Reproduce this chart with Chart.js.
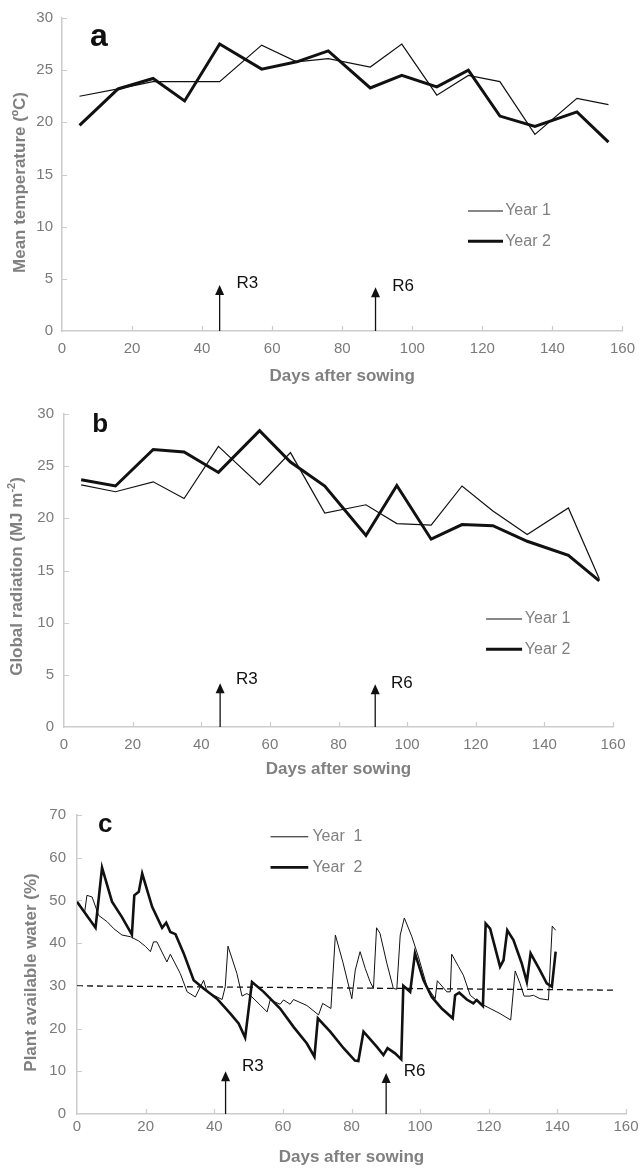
<!DOCTYPE html>
<html><head><meta charset="utf-8">
<script src="https://cdn.jsdelivr.net/npm/chart.js@4.4.0/dist/chart.umd.min.js"></script>
<style>
html,body{margin:0;padding:0;background:#fff;}
.p{position:absolute;left:0;width:644px;}
</style></head><body>
<div class="p" style="top:0;height:392px"><canvas id="ca"></canvas></div>
<div class="p" style="top:392px;height:392px"><canvas id="cb"></canvas></div>
<div class="p" style="top:784px;height:384px"><canvas id="cc"></canvas></div>
<script>
// ---------- data ----------
const xTickValues = [0,20,40,60,80,100,120,140,160];
const tempTicks = [0,5,10,15,20,25,30];
const radTicks = [0,5,10,15,20,25,30];
const waterTicks = [0,10,20,30,40,50,60,70];
const seriesNames = ['Year 1','Year 2'];
const stageLabels = ['R3','R6'];

// panel a: mean temperature
const tempDays = [5,16,26,35,45,57,67,76,88,97,107,116,125,135,147,156];
const tempYear1 = [22.5,23.2,23.9,23.9,23.9,27.4,25.8,26.1,25.3,27.5,22.6,24.5,23.9,18.85,22.3,21.7];
const tempYear2 = [19.7,23.2,24.2,22.05,27.5,25.1,25.8,26.85,23.3,24.5,23.4,25.0,20.6,19.6,21.0,18.1];
const stageDaysA = [45,89.5];

// panel b: global radiation
const radDays = [5,15,26,35,45,57,66,76,88,97,107,116,125,135,147,156];
const radYear1 = [23.2,22.55,23.5,21.9,26.9,23.2,26.3,20.5,21.3,19.5,19.35,23.1,20.7,18.45,21.0,14.2];
const radYear2 = [23.7,23.1,26.6,26.35,24.4,28.4,25.4,23.1,18.35,23.15,18.0,19.4,19.3,17.8,16.45,14.0];
const stageDaysB = [45.5,90.7];

// panel c: plant available water
const waterDaysY1 = [0,2.2,2.9,4.4,6.3,8.8,10.7,13.1,15.6,18,20,21.4,22.3,23.3,26.2,27.2,30.1,32.1,34.5,36.9,37.9,42.3,43.2,44.0,46.6,48.1,49.5,51.0,53.4,55.4,56.3,59.2,60.2,62.1,63.1,67.0,70.4,71.6,74.0,75.3,77.5,80.1,81.1,82.5,84.0,85.4,86.4,87.3,88.3,90.3,92.2,93.2,94.2,95.4,97.6,99.5,102.0,104.4,105.0,107.8,108.8,109.2,111.2,112.6,114.6,117.5,120.4,123.3,126.4,127.7,129.1,130.3,132.0,133.0,134.9,137.4,138.5,139.5];
const waterY1 = [49.7,47.1,51.2,50.8,46.5,45.0,43.4,41.9,41.5,40.5,39.2,38.0,40.3,40.3,35.6,37.4,32.9,28.6,27.4,31.3,28.6,26.8,29.8,39.3,32.9,27.6,28.2,27.4,25.5,23.9,26.7,25.7,26.7,25.7,26.8,25.4,23.2,25.9,24.7,41.9,35.5,27.0,33.7,38.0,34.1,31.0,29.4,43.6,42.3,35.3,29.4,29.2,41.9,45.9,41.5,36.8,29.8,27.0,31.2,28.6,28.6,37.4,34.5,32.5,27.8,25.9,24.7,23.5,22.0,33.5,30.6,27.6,27.6,27.8,27.0,26.7,44.0,43.0];
const waterDaysY2 = [0,5.4,7.3,10.2,13.1,16.0,16.7,18.0,19.0,21.9,24.8,26.0,27.2,28.7,31.1,34.0,36.9,40.8,44.7,47.1,49.0,51.0,54.4,59.2,63.1,67.0,69.2,70.2,73.8,77.7,81.0,82.0,83.5,87.4,89.3,90.5,92.7,94.5,95.1,97.1,98.5,101.0,103.4,106.3,109.5,110.2,111.4,113.6,115.5,116.5,118.3,119.1,120.4,123.3,124.3,125.4,127.2,129.6,131.1,132.2,134.9,136.9,138.4,139.5];
const waterY2 = [49.7,43.6,57.7,49.7,46.1,42.0,51.2,52.0,56.3,48.5,43.6,44.8,42.6,42.1,37.6,31.3,29.4,27.0,23.5,21.2,17.9,30.9,28.6,24.7,20.4,16.5,13.4,22.4,19.3,15.4,12.5,12.4,19.3,15.7,13.8,15.4,14.2,12.8,30.0,28.6,37.6,31.3,27.4,24.7,22.4,27.8,28.4,26.8,25.9,26.7,25.3,44.6,43.4,34.5,36.0,43.0,40.7,35.3,30.9,37.6,33.7,30.6,29.8,38.0];
const thresholdDays = [0,157];
const thresholdValues = [30,29];
const stageDaysC = [43.3,90.1];

// ---------- styles ----------
const AXIS = '#cccccc', TICK = '#7a7a7a', TITLE = '#808080', INK = '#111111';
const FAM = "'Liberation Sans', Arial, Helvetica, sans-serif";
Chart.defaults.font.family = FAM;

const pts = (xs, ys) => xs.map((d,i)=>({x:d, y:ys[i]}));

const deco = {
  id: 'deco',
  afterDatasetsDraw(chart, args, o) {
    const {ctx, chartArea: ca, scales: {x, y}} = chart;
    ctx.save();
    // inward tick marks
    ctx.strokeStyle = AXIS; ctx.lineWidth = 1.2;
    ctx.beginPath();
    y.ticks.forEach(t => { if (t.value === 0) return; const py = Math.round(y.getPixelForValue(t.value)) + 0.5; ctx.moveTo(ca.left, py); ctx.lineTo(ca.left + 5, py); });
    x.ticks.forEach(t => { if (t.value === 0) return; const px = Math.round(x.getPixelForValue(t.value)) + 0.5; ctx.moveTo(px, ca.bottom); ctx.lineTo(px, ca.bottom - 5); });
    ctx.stroke();
    // y-axis title (with optional superscript)
    const yt = o.yTitle;
    ctx.save();
    ctx.translate(yt.x, (ca.top + ca.bottom) / 2 + yt.dy);
    ctx.rotate(-Math.PI / 2);
    ctx.fillStyle = TITLE; ctx.textBaseline = 'middle'; ctx.textAlign = 'left';
    const fMain = 'bold 17px ' + FAM, fSup = 'bold 11px ' + FAM;
    let total = 0;
    yt.parts.forEach(p => { ctx.font = p.sup ? fSup : fMain; total += ctx.measureText(p.t).width; });
    let cx = -total / 2;
    yt.parts.forEach(p => { ctx.font = p.sup ? fSup : fMain; ctx.fillText(p.t, cx, p.sup ? -5 : 0); cx += ctx.measureText(p.t).width; });
    ctx.restore();
    // arrows and stage labels
    ctx.strokeStyle = INK; ctx.fillStyle = INK; ctx.lineWidth = 1.3;
    o.arrows.forEach(a => {
      const px = x.getPixelForValue(a.day), tip = y.getPixelForValue(a.tip);
      ctx.beginPath(); ctx.moveTo(px, ca.bottom); ctx.lineTo(px, tip + 6); ctx.stroke();
      ctx.beginPath(); ctx.moveTo(px, tip); ctx.lineTo(px - 4.5, tip + 10); ctx.lineTo(px + 4.5, tip + 10); ctx.closePath(); ctx.fill();
      ctx.font = '17px ' + FAM; ctx.textAlign = 'left'; ctx.textBaseline = 'middle';
      ctx.fillText(a.label, x.getPixelForValue(a.lx), y.getPixelForValue(a.ly));
    });
    // legend
    const lg = o.legend;
    lg.items.forEach(it => {
      const py = y.getPixelForValue(it.y);
      ctx.strokeStyle = INK; ctx.lineWidth = it.w;
      ctx.beginPath(); ctx.moveTo(x.getPixelForValue(lg.x1), py); ctx.lineTo(x.getPixelForValue(lg.x2), py); ctx.stroke();
      ctx.fillStyle = TITLE; ctx.font = '16px ' + FAM; ctx.textAlign = 'left'; ctx.textBaseline = 'middle';
      ctx.fillText(it.label, x.getPixelForValue(lg.tx), py);
    });
    // panel letter
    const L = o.letter;
    ctx.fillStyle = INK; ctx.font = 'bold ' + L.size + 'px ' + FAM; ctx.textAlign = 'left'; ctx.textBaseline = 'alphabetic';
    ctx.fillText(L.text, x.getPixelForValue(L.x), y.getPixelForValue(L.y));
    ctx.restore();
  }
};

function makeChart(id, c) {
  return new Chart(document.getElementById(id), {
    type: 'line',
    data: { datasets: c.datasets },
    options: {
      responsive: true, maintainAspectRatio: false, animation: false,
      layout: { padding: c.pad },
      elements: { point: { radius: 0 }, line: { tension: 0, borderJoinStyle: 'miter' } },
      plugins: { legend: { display: false }, tooltip: { enabled: false }, deco: c.deco },
      scales: {
        x: {
          type: 'linear', min: 0, max: 160,
          afterBuildTicks: s => { s.ticks = xTickValues.map(v => ({value: v})); },
          afterFit: s => { s.height = c.xh; },
          grid: { display: true, drawOnChartArea: false, drawTicks: false },
          border: { display: true, color: AXIS, width: 1.5 },
          ticks: { color: TICK, font: { size: 15 }, padding: c.xpad, maxRotation: 0, autoSkip: false },
          title: { display: true, text: 'Days after sowing', color: TITLE, font: { size: 17, weight: 'bold' }, padding: { top: 0, bottom: c.tpad } }
        },
        y: {
          type: 'linear', min: 0, max: c.yTicks[c.yTicks.length - 1],
          afterBuildTicks: s => { s.ticks = c.yTicks.map(v => ({value: v})); },
          afterFit: s => { s.width = c.yw; },
          grid: { display: true, drawOnChartArea: false, drawTicks: false },
          border: { display: true, color: AXIS, width: 1.5 },
          ticks: { color: TICK, font: { size: 15 }, padding: c.ypad },
          title: { display: false }
        }
      }
    },
    plugins: [deco]
  });
}

makeChart('ca', {
  datasets: [
    { label: seriesNames[0], data: pts(tempDays, tempYear1), borderColor: INK, borderWidth: 1.2 },
    { label: seriesNames[1], data: pts(tempDays, tempYear2), borderColor: INK, borderWidth: 3 }
  ],
  pad: { top: 18, right: 21, left: 0, bottom: 0 }, xh: 61, yw: 62, xpad: 9, ypad: 9, tpad: 5,
  yTicks: tempTicks,
  deco: {
    yTitle: { x: 20, dy: 8, parts: [{ t: 'Mean temperature (ºC)' }] },
    arrows: [
      { day: stageDaysA[0], tip: 4.4, label: stageLabels[0], lx: 49.8, ly: 4.6 },
      { day: stageDaysA[1], tip: 4.2, label: stageLabels[1], lx: 94.3, ly: 4.25 }
    ],
    legend: { x1: 115.9, x2: 125.9, tx: 126.5, items: [{ y: 11.5, w: 1.2, label: seriesNames[0] }, { y: 8.6, w: 3, label: seriesNames[1] }] },
    letter: { text: 'a', x: 8, y: 27.3, size: 32 }
  }
});

makeChart('cb', {
  datasets: [
    { label: seriesNames[0], data: pts(radDays, radYear1), borderColor: INK, borderWidth: 1.2 },
    { label: seriesNames[1], data: pts(radDays, radYear2), borderColor: INK, borderWidth: 3 }
  ],
  pad: { top: 22, right: 31, left: 0, bottom: 0 }, xh: 57, yw: 64, xpad: 9, ypad: 10, tpad: 4,
  yTicks: radTicks,
  deco: {
    yTitle: { x: 17, dy: 6, parts: [{ t: 'Global radiation (MJ m' }, { t: '-2', sup: true }, { t: ')' }] },
    arrows: [
      { day: stageDaysB[0], tip: 4.2, label: stageLabels[0], lx: 50.1, ly: 4.6 },
      { day: stageDaysB[1], tip: 4.1, label: stageLabels[1], lx: 95.3, ly: 4.2 }
    ],
    legend: { x1: 123, x2: 133.5, tx: 134.3, items: [{ y: 10.35, w: 1.2, label: seriesNames[0] }, { y: 7.45, w: 3, label: seriesNames[1] }] },
    letter: { text: 'b', x: 8.2, y: 28.3, size: 26 }
  }
});

makeChart('cc', {
  datasets: [
    { label: seriesNames[0], data: pts(waterDaysY1, waterY1), borderColor: INK, borderWidth: 1 },
    { label: seriesNames[1], data: pts(waterDaysY2, waterY2), borderColor: INK, borderWidth: 2.6 },
    { label: 'threshold', data: pts(thresholdDays, thresholdValues), borderColor: INK, borderWidth: 1.3, borderDash: [6, 4] }
  ],
  pad: { top: 31, right: 18, left: 0, bottom: 0 }, xh: 54, yw: 77, xpad: 4, ypad: 11, tpad: 0,
  yTicks: waterTicks,
  deco: {
    yTitle: { x: 31, dy: 8, parts: [{ t: 'Plant available water (%)' }] },
    arrows: [
      { day: stageDaysC[0], tip: 10.0, label: stageLabels[0], lx: 48.1, ly: 11.1 },
      { day: stageDaysC[1], tip: 9.6, label: stageLabels[1], lx: 95.2, ly: 10.0 }
    ],
    legend: { x1: 56.4, x2: 67.4, tx: 68.6, items: [{ y: 64.9, w: 1, label: 'Year  1' }, { y: 57.75, w: 2.6, label: 'Year  2' }] },
    letter: { text: 'c', x: 6.1, y: 66.0, size: 26 }
  }
});
</script>
</body></html>
